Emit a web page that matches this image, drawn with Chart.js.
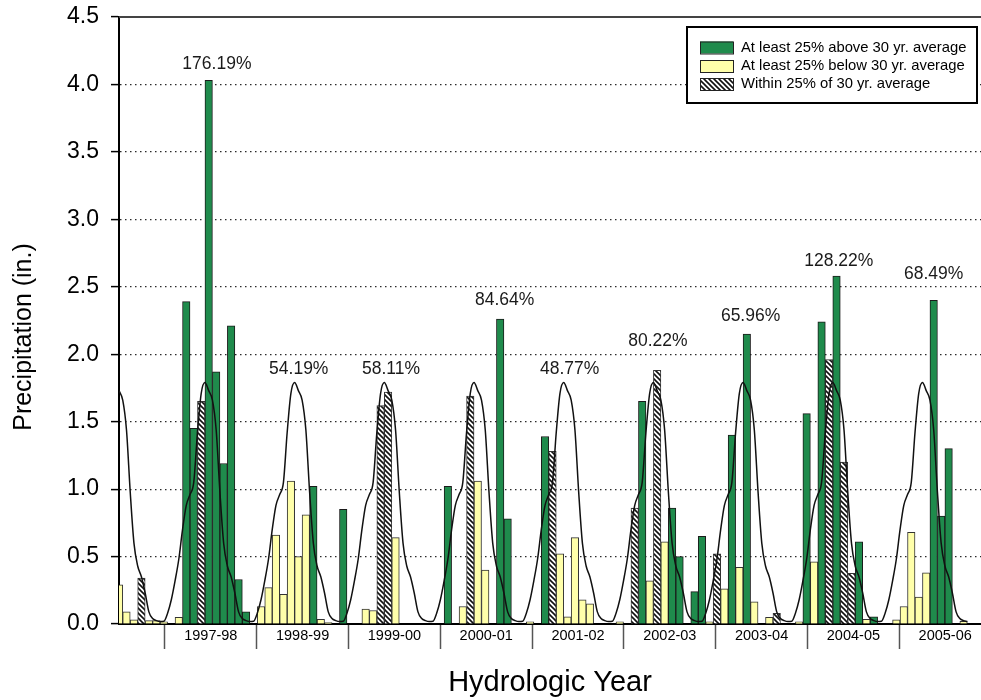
<!DOCTYPE html>
<html>
<head>
<meta charset="utf-8">
<title>Monthly Precipitation by Hydrologic Year</title>
<script src="https://cdn.jsdelivr.net/npm/chart.js@4.4.1/dist/chart.umd.min.js"></script>
<style>
  html, body { margin: 0; padding: 0; background: #fff; }
  #wrap { width: 981px; height: 700px; }
</style>
</head>
<body>
<div id="wrap"><canvas id="precipChart" width="981" height="700"></canvas></div>
<script>
// ////////////////////////////
// Data
// ////////////////////////////

// monthly precipitation (in.), one value per month starting Feb 1997
// first row is the partial year before 1997-98, then one row per hydrologic year
let monthlyPrecip = [
  0.29, 0.09, 0.03, 0.34, 0.025, 0.025,
  0.017, 0, 0.05, 2.39, 1.45, 1.65, 4.03, 1.87, 1.19, 2.21, 0.33, 0.09,
  0, 0.13, 0.27, 0.66, 0.22, 1.06, 0.50, 0.81, 1.02, 0.035, 0.01, 0,
  0.85, 0, 0, 0.11, 0.10, 1.62, 1.72, 0.64, 0, 0, 0, 0,
  0, 0, 1.02, 0, 0.13, 1.69, 1.06, 0.40, 0, 2.26, 0.78, 0,
  0, 0.017, 0, 1.39, 1.28, 0.52, 0.054, 0.64, 0.18, 0.15, 0, 0,
  0, 0.017, 0, 0.86, 1.65, 0.32, 1.88, 0.61, 0.86, 0.50, 0, 0.24,
  0.65, 0.017, 0.52, 0.26, 1.40, 0.42, 2.15, 0.165, 0, 0.05, 0.08, 0,
  0, 0.017, 1.56, 0.46, 2.24, 1.96, 2.58, 1.20, 0.375, 0.61, 0.035, 0.054,
  0, 0, 0.03, 0.13, 0.68, 0.20, 0.38, 2.40, 0.80, 1.30, 0, 0.02,
  0, 0
];

// A = at least 25% above, B = at least 25% below, W = within 25%
let monthlyClass = [
  'B', 'B', 'B', 'W', 'B', 'B',
  'B', '-', 'B', 'A', 'A', 'W', 'A', 'A', 'A', 'A', 'A', 'A',
  '-', 'B', 'B', 'B', 'B', 'B', 'B', 'B', 'A', 'B', 'B', '-',
  'A', '-', '-', 'B', 'B', 'W', 'W', 'B', '-', '-', '-', '-',
  '-', '-', 'A', '-', 'B', 'W', 'B', 'B', '-', 'A', 'A', '-',
  '-', 'B', '-', 'A', 'W', 'B', 'B', 'B', 'B', 'B', '-', '-',
  '-', 'B', '-', 'W', 'A', 'B', 'W', 'B', 'A', 'A', '-', 'A',
  'A', 'B', 'W', 'B', 'A', 'B', 'A', 'B', '-', 'B', 'W', '-',
  '-', 'B', 'A', 'B', 'A', 'W', 'A', 'W', 'W', 'A', 'B', 'A',
  '-', '-', 'B', 'B', 'B', 'B', 'B', 'A', 'A', 'A', '-', 'B',
  '-', '-'
];

// 30 yr average (smoothed), half-month steps, starting at February
let avgProfile = [1.73, 1.66, 1.44, 0.98, 0.60, 0.43, 0.35, 0.23, 0.09, 0.04, 0.025, 0.018,
                  0.02, 0.08, 0.18, 0.32, 0.48, 0.70, 0.88, 0.96, 1.05, 1.42, 1.71, 1.79];
let avgEnd = 113.5;   // last month position of the average curve

let yearLabels = ['', '1997-98', '1998-99', '1999-00', '2000-01', '2001-02',
                  '2002-03', '2003-04', '2004-05', '2005-06'];

// percent of 30 yr average for each hydrologic year
let pctLabels = ['176.19%', '54.19%', '58.11%', '84.64%', '48.77%', '80.22%', '65.96%', '128.22%', '68.49%'];
let pctX = [13.1, 24.05, 36.4, 51.6, 60.3, 72.1, 84.5, 96.3, 109.0];
let pctY = [4.15, 1.89, 1.89, 2.40, 1.89, 2.10, 2.28, 2.69, 2.59];

let seriesLabels = {
  A: 'At least 25% above 30 yr. average',
  B: 'At least 25% below 30 yr. average',
  W: 'Within 25% of 30 yr. average'
};

// ////////////////////////////
// Chart
// ////////////////////////////

Chart.defaults.font.family = '"Liberation Sans", Arial, Helvetica, sans-serif';
Chart.defaults.color = '#000';

var ctx = document.getElementById('precipChart').getContext('2d');

// diagonal hatch for the "within" bars
function makeHatch() {
  let c = document.createElement('canvas');
  c.width = 5; c.height = 5;
  let g = c.getContext('2d');
  g.fillStyle = '#fff';
  g.fillRect(0, 0, 5, 5);
  g.strokeStyle = '#111';
  g.lineWidth = 1.6;
  g.beginPath();
  g.moveTo(-1, -1); g.lineTo(6, 6);
  g.moveTo(-1, 4); g.lineTo(1, 6);
  g.moveTo(4, -1); g.lineTo(6, 1);
  g.stroke();
  return ctx.createPattern(c, 'repeat');
}
var hatch = makeHatch();

function seriesFor(code) {
  return monthlyPrecip.map((v, i) => ({ x: i, y: monthlyClass[i] === code ? v : null }));
}

let avgPoints = [];
for (let k = 0; k / 2 <= avgEnd; k++) {
  avgPoints.push({ x: k / 2, y: avgProfile[k % avgProfile.length] });
}

// percent labels above each year
const pctPlugin = {
  id: 'pctLabels',
  afterDatasetsDraw(chart) {
    const { ctx, scales: { x, y } } = chart;
    ctx.save();
    ctx.font = '17.5px "Liberation Sans", Arial, sans-serif';
    ctx.fillStyle = '#1a1a1a';
    ctx.textAlign = 'center';
    ctx.textBaseline = 'middle';
    pctLabels.forEach((t, k) => {
      ctx.fillText(t, x.getPixelForValue(pctX[k]), y.getPixelForValue(pctY[k]));
    });
    ctx.restore();
  }
};

// frame top line, y title and the boxed legend
const framePlugin = {
  id: 'frame',
  afterDraw(chart) {
    const { ctx, chartArea } = chart;
    ctx.save();
    // top line of the plot
    ctx.strokeStyle = '#444';
    ctx.lineWidth = 2;
    ctx.beginPath();
    ctx.moveTo(chartArea.left, chartArea.top);
    ctx.lineTo(chartArea.right, chartArea.top);
    ctx.stroke();

    // y title
    ctx.translate(24, 337);
    ctx.rotate(-Math.PI / 2);
    ctx.font = '25px "Liberation Sans", Arial, sans-serif';
    ctx.fillStyle = '#000';
    ctx.textAlign = 'center';
    ctx.textBaseline = 'middle';
    ctx.fillText('Precipitation (in.)', 0, 0);
    ctx.restore();

    // legend
    ctx.save();
    ctx.fillStyle = '#fff';
    ctx.fillRect(687, 27, 290, 76);
    ctx.strokeStyle = '#000';
    ctx.lineWidth = 2;
    ctx.strokeRect(687, 27, 290, 76);
    ctx.font = '14.8px "Liberation Sans", Arial, sans-serif';
    ctx.textAlign = 'left';
    ctx.textBaseline = 'middle';
    let rowY = [47.5, 66, 84];
    chart.data.datasets.filter(d => d.type === 'bar').forEach((d, k) => {
      ctx.fillStyle = d.backgroundColor;
      ctx.fillRect(700, rowY[k] - 6, 33, 12);
      ctx.strokeStyle = '#222';
      ctx.lineWidth = 1;
      ctx.strokeRect(700.5, rowY[k] - 5.5, 33, 12);
      ctx.fillStyle = '#000';
      ctx.fillText(d.label, 741, rowY[k]);
    });
    ctx.restore();
  }
};

var chartPrecip = new Chart(ctx, {
  type: 'bar',
  data: {
    datasets: [{
      type: 'line',
      label: '30 yr. average',
      data: avgPoints,
      borderColor: '#111',
      borderWidth: 1.5,
      pointRadius: 0,
      cubicInterpolationMode: 'monotone',
      xAxisID: 'x',
      yAxisID: 'y',
      order: 0
    }, {
      type: 'bar',
      label: seriesLabels.A,
      data: seriesFor('A'),
      backgroundColor: '#1f8b4c',
      borderColor: '#1b1b1b',
      borderWidth: 1,
      grouped: false,
      barPercentage: 1,
      categoryPercentage: 1,
      xAxisID: 'x',
      yAxisID: 'y',
      order: 1
    }, {
      type: 'bar',
      label: seriesLabels.B,
      data: seriesFor('B'),
      backgroundColor: '#ffffaa',
      borderColor: '#333',
      borderWidth: 1,
      grouped: false,
      barPercentage: 1,
      categoryPercentage: 1,
      xAxisID: 'x',
      yAxisID: 'y',
      order: 1
    }, {
      type: 'bar',
      label: seriesLabels.W,
      data: seriesFor('W'),
      backgroundColor: hatch,
      borderColor: '#333',
      borderWidth: 1,
      grouped: false,
      barPercentage: 1,
      categoryPercentage: 1,
      xAxisID: 'x',
      yAxisID: 'y',
      order: 1
    }]
  },
  options: {
    responsive: false,
    animation: false,
    devicePixelRatio: 1,
    layout: { padding: { top: 17, right: 0, bottom: 0, left: 0 } },
    plugins: {
      legend: { display: false },
      tooltip: { enabled: false }
    },
    scales: {
      x: {
        type: 'linear',
        display: false,
        min: 0,
        max: 115.33,
        offset: false,
        grid: { offset: false }
      },
      xYear: {
        type: 'linear',
        position: 'bottom',
        min: 0,
        max: 9.39,
        offset: false,
        afterBuildTicks: axis => { axis.ticks = yearLabels.map((l, k) => ({ value: k })); },
        afterFit: axis => { axis.height = 76; },
        ticks: {
          autoSkip: false,
          maxRotation: 0,
          padding: -22,
          font: { size: 14.5 },
          color: '#000',
          callback: (v, k) => yearLabels[k]
        },
        grid: {
          offset: true,
          drawOnChartArea: false,
          drawTicks: true,
          tickLength: 25,
          color: '#555',
          tickColor: '#555',
          tickWidth: 1.5
        },
        border: { display: true, color: '#000', width: 2 },
        title: {
          display: true,
          text: 'Hydrologic Year',
          font: { size: 29 },
          color: '#000',
          padding: { top: 0, bottom: 0 }
        }
      },
      y: {
        type: 'linear',
        position: 'left',
        min: 0,
        max: 4.5,
        afterFit: axis => {
          axis.width = 119;
          axis.paddingTop = 0;
          axis.paddingBottom = 0;
        },
        ticks: {
          stepSize: 0.5,
          padding: 12,
          font: { size: 23 },
          color: '#000',
          callback: v => v.toFixed(1)
        },
        grid: {
          color: c => (c.tick && (c.tick.value === 0 || c.tick.value === 4.5)) ? 'rgba(0,0,0,0)' : '#2a2a2a',
          lineWidth: 1.2,
          drawTicks: true,
          tickLength: 8,
          tickColor: '#000',
          tickWidth: 1.5
        },
        border: { display: true, color: '#000', width: 2, dash: [1.5, 3.5] }
      }
    }
  },
  plugins: [pctPlugin, framePlugin]
});
</script>
</body>
</html>
